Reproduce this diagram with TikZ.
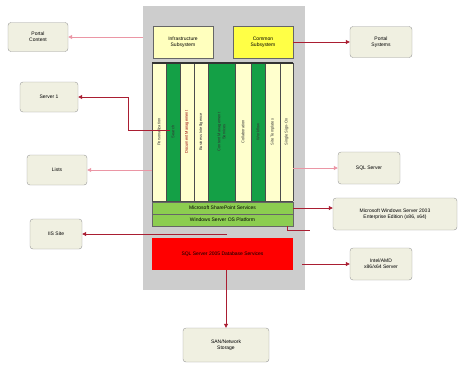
\documentclass[tikz,border=0pt]{standalone}
\usepackage{fontspec}
\setmainfont{Liberation Sans}
\usetikzlibrary{arrows.meta}
\definecolor{bggray}{RGB}{205,205,205}
\definecolor{colgreen}{RGB}{20,160,70}
\definecolor{colyel}{RGB}{255,255,205}
\definecolor{boxyel}{RGB}{255,255,70}
\definecolor{paleyel}{RGB}{255,255,190}
\definecolor{bandgreen}{RGB}{140,205,80}
\definecolor{darkred}{RGB}{170,30,50}
\definecolor{pinkline}{RGB}{235,150,165}
\definecolor{boxfill}{RGB}{240,240,225}
\tikzset{
  obox/.style={draw=gray!80, fill=boxfill, rounded corners=3pt, align=center,
    font=\fontsize{5}{6}\selectfont, inner sep=1pt},
  col/.style={draw=black!70, line width=0.4pt},
  coltext/.style={rotate=90, font=\fontsize{4}{5}\selectfont, text=black!80},
  band/.style={draw=black!60, fill=bandgreen, font=\fontsize{5}{6}\selectfont},
  darrow/.style={draw=darkred, line width=0.8pt, -{Triangle[length=4pt,width=4pt]}},
  parrow/.style={draw=pinkline, line width=0.8pt, -{Triangle[length=4pt,width=4pt]}}
}
\begin{document}
\begin{tikzpicture}[x=1pt,y=-1pt]
\useasboundingbox (0,0) rectangle (462,365);
% gray background
\fill[bggray] (143,6) rectangle (305,290);
% top boxes
\node[draw=black!60, fill=paleyel, minimum width=60pt, minimum height=32pt, align=center,
  font=\fontsize{5}{6}\selectfont] (infra) at (183,42) {Infrastructure\\Subsystem};
\node[draw=black!60, fill=boxyel, minimum width=60pt, minimum height=32pt, align=center,
  font=\fontsize{5}{6}\selectfont] (common) at (263,42) {Common\\Subsystem};
% columns
\fill[colyel] (152,63) rectangle (293,201);
\foreach \a/\b in {166/180,208/235,251/265}{\fill[colgreen] (\a,63) rectangle (\b,201);}
\foreach \x in {152,166,180,194,208,235,251,265,280,293}{\draw[col] (\x,63) -- (\x,201);}
\draw[black!80, line width=1.2pt] (152,63) -- (293,63);
\draw[black!70] (152,201) -- (293,201);
\node[coltext] (c1) at (159,132) {Personalization};
\node[coltext] (c2) at (173,132) {Search};
\node[coltext, text=red!60!black] (c3) at (187,132) {Document Management};
\node[coltext] (c4) at (201,132) {Business Intelligence};
\node[coltext, align=center] (c5) at (221.5,132) {Content Management\\Services};
\node[coltext] (c6) at (243,132) {Collaboration};
\node[coltext] (c7) at (258,132) {Workflow};
\node[coltext] (c8) at (272.5,132) {Site Templates};
\node[coltext] (c9) at (286.5,132) {Single Sign-On};
% bands
\node[band, minimum width=141pt, minimum height=12pt] (band1) at (222.5,208) {Microsoft SharePoint Services};
\node[band, minimum width=141pt, minimum height=12pt] (band2) at (222.5,220) {Windows Server OS Platform};
% red band
\node[fill=red, minimum width=141pt, minimum height=32pt, font=\fontsize{5}{6}\selectfont] (redb) at (222.5,254) {SQL Server 2005 Database Services};
% outer boxes
\node[obox, minimum width=60pt, minimum height=29pt] (pcont) at (38,37) {Portal\\Content};
\node[obox, minimum width=62pt, minimum height=31pt] (psys) at (381,42) {Portal\\Systems};
\node[obox, minimum width=58pt, minimum height=30pt] (serv) at (49,97) {Server 1};
\node[obox, minimum width=60pt, minimum height=30pt] (lists) at (57,170) {Lists};
\node[obox, minimum width=62pt, minimum height=32pt] (sql) at (369,168) {SQL Server};
\node[obox, minimum width=124pt, minimum height=32pt] (win) at (395,214) {Microsoft Windows Server 2003\\Enterprise Edition (x86, x64)};
\node[obox, minimum width=52pt, minimum height=30pt] (iis) at (56,234) {IIS Site};
\node[obox, minimum width=62pt, minimum height=32pt] (intel) at (381,264) {Intel/AMD\\x86/x64 Server};
\node[obox, minimum width=86pt, minimum height=34pt] (san) at (226,345) {SAN/Network\\Storage};
% connector anchors
\coordinate (pc0) at (143,37);
\coordinate (sv0) at (170,130);
\coordinate (ls0) at (152,170);
\coordinate (sq0) at (293,168);
\coordinate (b2e) at (287,226);
\coordinate (is0) at (227,234);
\coordinate (rd0) at (302,264);
% connectors
\draw[parrow] (pc0) -- (pcont.east);
\draw[darrow] (common.east |- psys.west) -- (psys.west);
\draw[darrow] (sv0) -- (128,130) -- (128,97) -- (serv.east);
\draw[parrow] (ls0) -- (lists.east);
\draw[parrow] (sq0) -- (sql.west);
\draw[darrow] (band1.east) -- (band1.east -| win.west);
\draw[darrow, -] (b2e) |- (310,230);
\draw[darrow] (is0) -- (iis.east);
\draw[darrow] (rd0) -- (intel.west);
\draw[darrow] (redb.south -| san.north) -- (san.north);
\end{tikzpicture}
\end{document}
